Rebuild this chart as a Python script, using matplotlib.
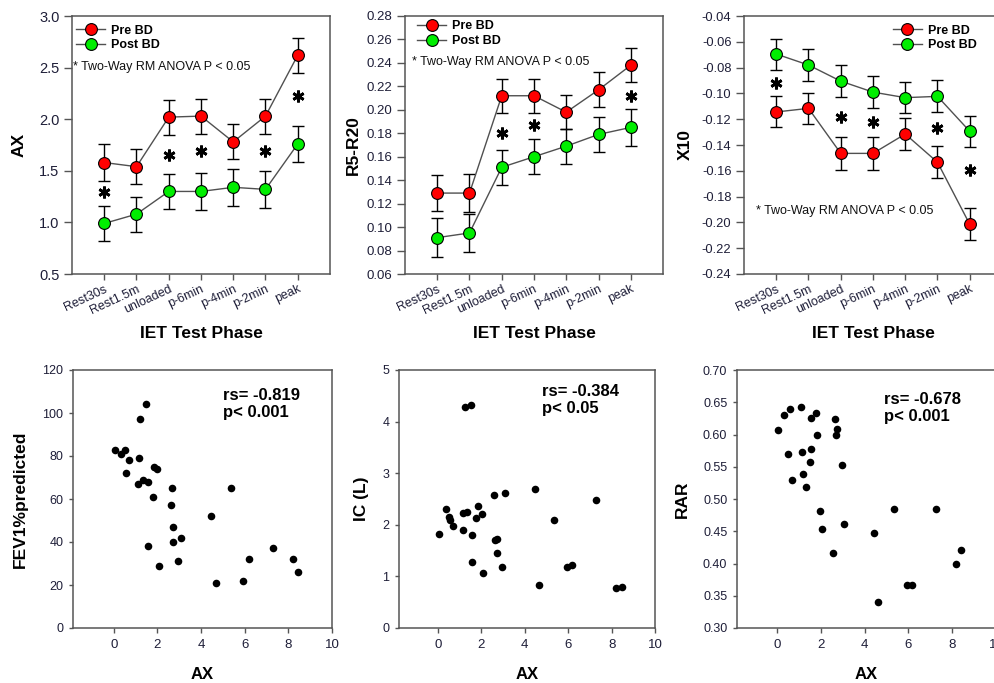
import matplotlib
matplotlib.use('Agg')
import matplotlib.pyplot as plt
from matplotlib.lines import Line2D
import numpy as np

plt.rcParams['font.family'] = ['Liberation Sans', 'DejaVu Sans']

# ---------------- data ----------------
phases = ['Rest30s', 'Rest1.5m', 'unloaded', 'p-6min', 'p-4min', 'p-2min', 'peak']

ax_pre = [1.58, 1.54, 2.02, 2.03, 1.78, 2.03, 2.62]
ax_pre_err = [0.18, 0.17, 0.17, 0.17, 0.17, 0.17, 0.17]
ax_post = [0.99, 1.08, 1.30, 1.30, 1.34, 1.32, 1.76]
ax_post_err = [0.17, 0.17, 0.17, 0.18, 0.18, 0.18, 0.17]
ax_star_idx = [0, 2, 3, 5, 6]
ax_star_y = [1.29, 1.65, 1.69, 1.69, 2.22]

rr_pre = [0.129, 0.129, 0.212, 0.212, 0.198, 0.217, 0.238]
rr_pre_err = [0.015, 0.016, 0.0145, 0.0145, 0.0145, 0.015, 0.0145]
rr_post = [0.091, 0.095, 0.151, 0.160, 0.169, 0.179, 0.185]
rr_post_err = [0.0165, 0.0165, 0.015, 0.015, 0.015, 0.015, 0.016]
rr_star_idx = [2, 3, 6]
rr_star_y = [0.180, 0.187, 0.212]

x10_pre = [-0.1144, -0.1116, -0.1465, -0.1465, -0.1315, -0.1534, -0.2015]
x10_pre_err = [0.012, 0.012, 0.0125, 0.0125, 0.0125, 0.0125, 0.0125]
x10_post = [-0.0695, -0.078, -0.0905, -0.099, -0.1033, -0.1023, -0.1294]
x10_post_err = [0.012, 0.0125, 0.0125, 0.0125, 0.012, 0.0125, 0.012]
x10_star_idx = [0, 2, 3, 5, 6]
x10_star_y = [-0.092, -0.1186, -0.122, -0.127, -0.1596]

fev_ax = [0.06, 0.32, 0.52, 0.68, 0.58, 1.14, 1.11, 1.34, 1.57, 1.21, 1.49, 1.83, 1.98,
          1.78, 1.57, 2.06, 2.60, 2.67, 2.72, 2.70, 3.09, 2.95, 4.47, 4.67, 5.35, 5.94,
          6.18, 7.28, 8.23, 8.46]
fev_val = [83, 81, 83, 78, 72, 79, 67, 69, 68, 97, 104, 75, 74,
           61, 38, 29, 57, 65, 47, 40, 42, 31, 52, 21, 65, 22,
           32, 37, 32, 26]

ic_ax = [0.06, 0.35, 0.51, 0.57, 0.69, 1.13, 1.15, 1.33, 1.23, 1.50, 1.56, 1.58, 1.76,
         1.84, 2.01, 2.06, 2.56, 3.08, 2.64, 2.74, 2.70, 2.96, 4.46, 4.66, 5.35, 5.93,
         6.19, 7.26, 8.18, 8.46]
ic_val = [1.83, 2.30, 2.15, 2.09, 1.98, 1.89, 2.23, 2.25, 4.28, 4.32, 1.80, 1.27, 2.13,
          2.37, 2.21, 1.06, 2.58, 2.62, 1.71, 1.72, 1.45, 1.19, 2.70, 0.84, 2.09, 1.18,
          1.23, 2.49, 0.78, 0.80]

rar_ax = [0.05, 0.32, 0.58, 0.52, 0.67, 1.11, 1.13, 1.19, 1.31, 1.50, 1.57, 1.57, 1.76,
          1.82, 1.97, 2.05, 2.55, 2.64, 2.72, 2.67, 2.95, 3.05, 4.44, 4.63, 5.33, 5.94,
          6.17, 7.24, 8.18, 8.40]
rar_val = [0.607, 0.631, 0.639, 0.570, 0.529, 0.643, 0.573, 0.539, 0.519, 0.557, 0.577,
           0.625, 0.633, 0.599, 0.482, 0.454, 0.416, 0.624, 0.608, 0.599, 0.553, 0.461,
           0.448, 0.340, 0.485, 0.367, 0.367, 0.484, 0.400, 0.421]

# ---------------- figure ----------------
W, H = 995, 683
fig = plt.figure(figsize=(W / 100, H / 100), dpi=100)

SPINE = '#555555'
TICKLAB = '#1e1e38'


def px_axes(left, top, right, bottom):
    return fig.add_axes([left / W, 1 - bottom / H, (right - left) / W, (bottom - top) / H])


def style(ax, ylen, xlen, ypad, xpad, ysize, xsize):
    for s in ax.spines.values():
        s.set_color(SPINE)
        s.set_linewidth(1.1)
    ax.tick_params(direction='out', width=1, color=SPINE, labelcolor=TICKLAB)
    ax.tick_params(axis='y', length=ylen, pad=ypad, labelsize=ysize)
    ax.tick_params(axis='x', length=xlen, pad=xpad, labelsize=xsize)


def line_panel(ax, pre, pre_err, post, post_err, s_idx, s_y, ylim, yticks, fmt,
               ylabel, ylab_x, leg_anchor, note_xy, ysize):
    x = np.arange(len(phases))
    for vals, errs, col in [(pre, pre_err, '#ff0000'), (post, post_err, '#00ee00')]:
        ax.errorbar(x, vals, yerr=errs, fmt='none', ecolor='black', elinewidth=1,
                    capsize=4, capthick=1, zorder=2)
        ax.plot(x, vals, '-', color='#505050', lw=1, zorder=3)
        ax.plot(x, vals, 'o', ms=8.5, mfc=col, mec='black', mew=0.8, zorder=4)
    ax.plot(np.array(x)[s_idx], s_y, linestyle='none', marker=(6, 2, 0), ms=8.5,
            mew=2, color='black', zorder=5)
    ax.set_xlim(-1, 7)
    ax.set_ylim(*ylim)
    ax.set_yticks(yticks)
    ax.set_yticklabels([fmt.format(v) for v in yticks])
    ax.set_xticks(x)
    style(ax, 5.5, 4, 3.5, 2.5, ysize, 9)
    ax.set_xticklabels(phases, rotation=25, ha='right', rotation_mode='anchor', fontsize=9)
    ax.set_ylabel(ylabel, fontsize=12.5, fontweight='bold')
    ax.yaxis.label.set_va('center')
    ax.yaxis.set_label_coords(ylab_x, 0.5)
    ax.set_xlabel('IET Test Phase', fontsize=12.5, fontweight='bold')
    ax.xaxis.label.set_va('center')
    ax.xaxis.set_label_coords(0.5, -0.229)
    handles = [Line2D([], [], color='#505050', lw=1, marker='o', ms=8.5, mfc='#ff0000',
                      mec='black', mew=0.8),
               Line2D([], [], color='#505050', lw=1, marker='o', ms=8.5, mfc='#00ee00',
                      mec='black', mew=0.8)]
    ax.legend(handles, ['Pre BD', 'Post BD'], loc='upper left', bbox_to_anchor=leg_anchor,
              frameon=False, prop={'size': 9, 'weight': 'bold'}, handlelength=2.3,
              handletextpad=0.5, labelspacing=0.2, borderpad=0, borderaxespad=0,
              numpoints=1)
    ax.text(note_xy[0], note_xy[1], '* Two-Way RM ANOVA P < 0.05', transform=ax.transAxes,
            fontsize=9, ha='left', va='center', color='#111111')


a1 = px_axes(72, 16, 330, 274)
line_panel(a1, ax_pre, ax_pre_err, ax_post, ax_post_err, ax_star_idx, ax_star_y,
           (0.5, 3.0), np.arange(0.5, 3.01, 0.5), '{:.1f}', 'AX', -0.205,
           (0.016, 0.967), (0.004, 0.802), 10.5)

a2 = px_axes(405, 16, 663, 274)
line_panel(a2, rr_pre, rr_pre_err, rr_post, rr_post_err, rr_star_idx, rr_star_y,
           (0.06, 0.28), np.arange(0.06, 0.2801, 0.02), '{:.2f}', 'R5-R20', -0.20,
           (0.047, 0.983), (0.027, 0.822), 9.5)

a3 = px_axes(744, 16, 1002, 274)
line_panel(a3, x10_pre, x10_pre_err, x10_post, x10_post_err, x10_star_idx, x10_star_y,
           (-0.24, -0.04), np.arange(-0.24, -0.0399, 0.02), '{:.2f}', 'X10', -0.229,
           (0.578, 0.967), (0.047, 0.244), 9.3)


def scatter_panel(ax, xv, yv, xlim, ylim, yticks, fmt, ylabel, ylab_x, txt, txt_xy):
    ax.scatter(xv, yv, s=30, color='black', zorder=3, linewidths=0)
    ax.set_xlim(*xlim)
    ax.set_ylim(*ylim)
    ax.set_xticks(np.arange(0, 10.1, 2))
    ax.set_yticks(yticks)
    ax.set_yticklabels([fmt.format(v) for v in yticks])
    style(ax, 3, 3.5, 4, 4.5, 9, 9.5)
    ax.set_ylabel(ylabel, fontsize=12.5, fontweight='bold')
    ax.yaxis.label.set_va('center')
    ax.yaxis.set_label_coords(ylab_x, 0.5)
    ax.set_xlabel('AX', fontsize=12, fontweight='bold')
    ax.xaxis.label.set_va('center')
    ax.xaxis.set_label_coords(0.5, -0.18)
    ax.text(txt_xy[0], txt_xy[1], txt, transform=ax.transAxes, fontsize=12,
            fontweight='bold', ha='left', va='top', linespacing=1.15)


b1 = px_axes(73, 370, 332, 628)
scatter_panel(b1, fev_ax, fev_val, (-1.87, 10), (0, 120), np.arange(0, 121, 20), '{:.0f}',
              'FEV1%predicted', -0.205, 'rs= -0.819\np< 0.001', (0.58, 0.93))

b2 = px_axes(399, 370, 655, 628)
scatter_panel(b2, ic_ax, ic_val, (-1.8, 10), (0, 5), np.arange(0, 5.1, 1), '{:.0f}',
              'IC (L)', -0.145, 'rs= -0.384\np< 0.05', (0.559, 0.946))

b3 = px_axes(737, 370, 996, 628)
scatter_panel(b3, rar_ax, rar_val, (-1.83, 10), (0.30, 0.70), np.arange(0.30, 0.701, 0.05),
              '{:.2f}', 'RAR', -0.212, 'rs= -0.678\np< 0.001', (0.568, 0.915))

fig.savefig('out.png', dpi=100)
